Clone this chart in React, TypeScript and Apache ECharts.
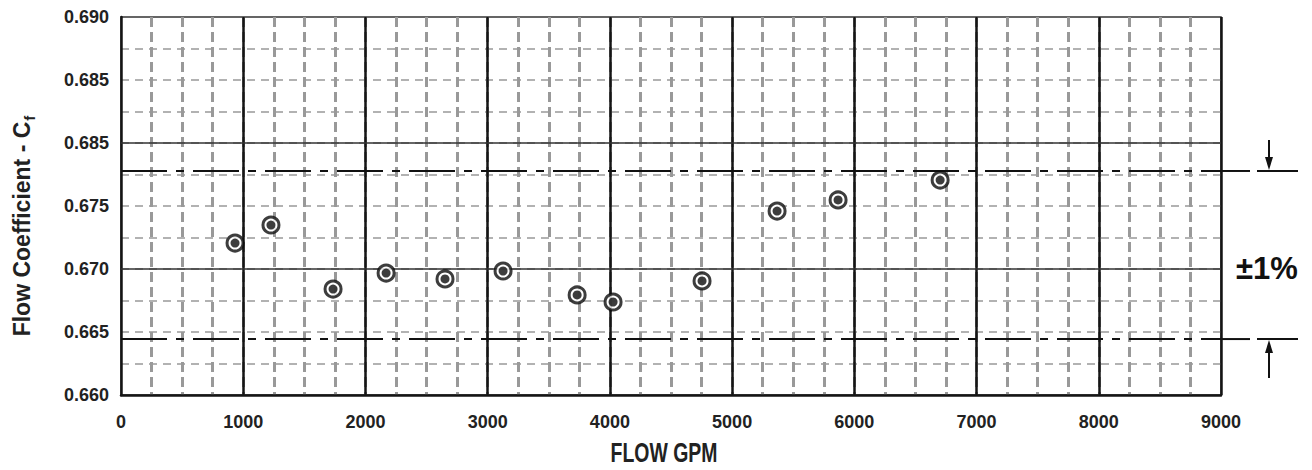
import React, { useEffect, useRef } from "react";
import * as echarts from "echarts";

// ---- data ----
const flowGpm = [933, 1227, 1735, 2169, 2651, 3126, 3732, 4026, 4754, 5368, 5867, 6702];
const flowCoef = [0.67206, 0.67349, 0.66841, 0.66968, 0.66921, 0.66984, 0.66794, 0.66738, 0.66905, 0.6746, 0.67548, 0.67706];

const xMin = 0;
const xMax = 9000;
const xMajor = 1000;
const xMinor = 250;

const yMin = 0.66;
const yMax = 0.69;
const yMajor = 0.005;
const yMinor = 0.0025;
// tick labels exactly as printed on the reference (the "0.685" appears twice)
const yTickLabels = ["0.660", "0.665", "0.670", "0.675", "0.685", "0.685", "0.690"];

const solidLevels = [0.67, 0.68];
const bandLevels = [0.67778, 0.66444];
const bandLabel = "±1%";

const FONT = "'Liberation Sans', Arial, Helvetica, sans-serif";

export default function App() {
  const ref = useRef<HTMLDivElement>(null);

  useEffect(() => {
    if (!ref.current) return;
    const chart = echarts.init(ref.current, null, { renderer: "svg" });
    const points = flowGpm.map((x, i) => [x, flowCoef[i]]);

    const bandSeries = bandLevels.map((v) => ({
      type: "line",
      xAxisIndex: 0,
      yAxisIndex: 0,
      data: [
        [xMin, v],
        [xMax, v],
      ],
      symbol: "none",
      silent: true,
      z: 3,
      lineStyle: { color: "#111", width: 2, type: [46, 9, 8, 9] },
    }));

    chart.setOption({
      animation: false,
      backgroundColor: "#ffffff",
      textStyle: { fontFamily: FONT },
      grid: {
        left: 121,
        right: 91,
        top: 17,
        bottom: 75,
        containLabel: false,
        outerBoundsMode: "none",
        show: true,
        borderColor: "#333",
        borderWidth: 1.5,
      },
      xAxis: [
        {
          type: "value",
          min: xMin,
          max: xMax,
          interval: xMinor,
          position: "bottom",
          axisLine: { show: false },
          axisTick: { show: false },
          axisLabel: { show: false },
          splitLine: {
            show: true,
            showMinLine: false,
            showMaxLine: false,
            lineStyle: { color: "#999", width: 3, type: [10, 5] },
          },
        },
        {
          type: "value",
          min: xMin,
          max: xMax,
          interval: xMajor,
          position: "bottom",
          z: 3,
          axisLine: { show: true, onZero: false, lineStyle: { color: "#151515", width: 2.5 } },
          axisTick: { show: false },
          axisLabel: {
            show: true,
            fontSize: 18,
            fontWeight: "bold",
            color: "#222",
            margin: 18,
            fontFamily: FONT,
            formatter: (v: number) => String(v),
          },
          splitLine: {
            show: true,
            showMinLine: false,
            lineStyle: { color: "#151515", width: 2.5, type: "solid" },
          },
        },
      ],
      yAxis: [
        {
          type: "value",
          min: yMin,
          max: yMax,
          interval: yMinor,
          position: "left",
          axisLine: { show: false },
          axisTick: { show: false },
          axisLabel: { show: false },
          splitLine: {
            show: true,
            showMinLine: false,
            showMaxLine: false,
            lineStyle: { color: "#999", width: 1.5, type: [8, 6] },
          },
        },
        {
          type: "value",
          min: yMin,
          max: yMax,
          interval: yMajor,
          position: "left",
          z: 3,
          axisLine: { show: true, onZero: false, lineStyle: { color: "#151515", width: 2.5 } },
          axisTick: { show: false },
          axisLabel: {
            show: true,
            fontSize: 18,
            fontWeight: "bold",
            color: "#222",
            margin: 12,
            fontFamily: FONT,
            formatter: (v: number) => yTickLabels[Math.round((v - yMin) / yMajor)] ?? "",
          },
          splitLine: { show: false },
        },
      ],
      series: [
        {
          type: "line",
          xAxisIndex: 0,
          yAxisIndex: 0,
          data: [],
          z: 2,
          silent: true,
          markLine: {
            silent: true,
            symbol: "none",
            label: { show: false },
            lineStyle: { type: "solid", color: "#333", width: 1.5 },
            data: solidLevels.map((v) => ({ yAxis: v })),
          },
        },
        ...bandSeries,
        {
          type: "scatter",
          xAxisIndex: 0,
          yAxisIndex: 0,
          data: points,
          symbol: "circle",
          symbolSize: 16,
          z: 5,
          itemStyle: { color: "#ffffff", borderColor: "#0d0d0d", borderWidth: 3 },
        },
        {
          type: "scatter",
          xAxisIndex: 0,
          yAxisIndex: 0,
          data: points,
          symbol: "circle",
          symbolSize: 9,
          z: 6,
          itemStyle: { color: "#0d0d0d" },
        },
      ],
    });

    const yU = chart.convertToPixel({ yAxisIndex: 0 }, bandLevels[0]) as number;
    const yL = chart.convertToPixel({ yAxisIndex: 0 }, bandLevels[1]) as number;
    const xR = chart.convertToPixel({ xAxisIndex: 0 }, xMax) as number;
    const yTop = chart.convertToPixel({ yAxisIndex: 0 }, yMax) as number;
    const yBot = chart.convertToPixel({ yAxisIndex: 0 }, yMin) as number;
    const xL = chart.convertToPixel({ xAxisIndex: 0 }, xMin) as number;
    const ax = xR + 48;
    const lineStyle = { stroke: "#111", lineWidth: 2 };

    const bandGraphics = [yU, yL].flatMap((y) => [
      { type: "line", shape: { x1: xR, y1: y, x2: xR + 29, y2: y }, style: lineStyle },
      { type: "line", shape: { x1: xR + 36, y1: y, x2: xR + 77, y2: y }, style: lineStyle },
    ]);

    chart.setOption({
      graphic: [
        ...bandGraphics,
        // downward arrow onto upper band
        { type: "line", shape: { x1: ax, y1: yU - 31, x2: ax, y2: yU - 12 }, style: lineStyle },
        {
          type: "polygon",
          shape: { points: [[ax - 4, yU - 14], [ax + 4, yU - 14], [ax, yU - 1]] },
          style: { fill: "#111" },
        },
        // upward arrow onto lower band
        { type: "line", shape: { x1: ax, y1: yL + 39, x2: ax, y2: yL + 12 }, style: lineStyle },
        {
          type: "polygon",
          shape: { points: [[ax - 4, yL + 14], [ax + 4, yL + 14], [ax, yL + 1]] },
          style: { fill: "#111" },
        },
        {
          type: "text",
          x: ax - 2,
          y: (yU + yL) / 2 + 13,
          style: {
            text: bandLabel,
            font: `bold 31px ${FONT}`,
            fill: "#111",
            align: "center",
            verticalAlign: "middle",
          },
        },
        // x axis title (condensed bold)
        {
          type: "text",
          x: (xL + xR) / 2 - 7,
          y: yBot + 58,
          scaleX: 0.72,
          style: {
            text: "FLOW GPM",
            font: `bold 27px ${FONT}`,
            fill: "#222",
            align: "center",
            verticalAlign: "middle",
          },
        },
        // y axis title with subscript
        {
          type: "text",
          x: 22,
          y: (yTop + yBot) / 2 + 20,
          rotation: Math.PI / 2,
          style: {
            text: "{m|Flow Coefficient - C}{s|f}",
            align: "center",
            verticalAlign: "middle",
            fill: "#222",
            rich: {
              m: { fontSize: 23, fontWeight: "bold", fontFamily: FONT, fill: "#222", lineHeight: 30 },
              s: {
                fontSize: 15,
                fontWeight: "bold",
                fontFamily: FONT,
                fill: "#222",
                lineHeight: 30,
                verticalAlign: "bottom",
                padding: [12, 0, 0, 1],
              },
            },
          },
        },
      ],
    });

    return () => chart.dispose();
  }, []);

  return (
    <div
      ref={ref}
      style={{ position: "fixed", left: 0, top: 0, width: 1312, height: 470, background: "#fff" }}
    />
  );
}
